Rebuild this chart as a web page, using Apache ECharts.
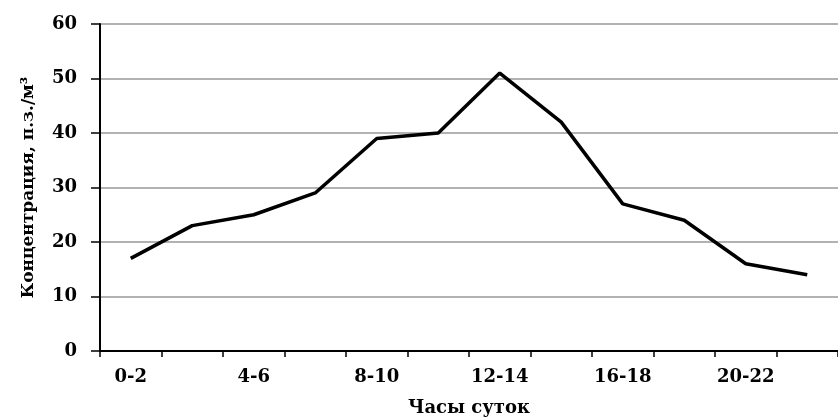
<!DOCTYPE html>
<html><head><meta charset="utf-8">
<script src="https://cdn.jsdelivr.net/npm/echarts@6/dist/echarts.min.js"></script>
<style>html,body{margin:0;padding:0;background:#fff}#c{width:838px;height:420px}</style>
</head><body><div id="c"></div>
<script>
const categories = ['0-2','2-4','4-6','6-8','8-10','10-12','12-14','14-16','16-18','18-20','20-22','22-24'];
const values = [17, 23, 25, 29, 39, 40, 51, 42, 27, 24, 16, 14];
const yTicks = [0, 10, 20, 30, 40, 50, 60];
const xTitle = 'Часы суток';
const yTitle = 'Концентрация, п.з./м³';

const font = '"DejaVu Serif", "Liberation Serif", serif';
const chart = echarts.init(document.getElementById('c'));
chart.setOption({
  animation: false,
  backgroundColor: '#fff',
  grid: {left: 100, right: 0, top: 24, bottom: 69, containLabel: false, outerBoundsMode: 'none'},
  xAxis: {
    type: 'category', data: categories, boundaryGap: true,
    name: xTitle, nameLocation: 'middle', nameGap: 48,
    nameTextStyle: {fontFamily: font, fontWeight: 'bold', fontSize: 18, color: '#000'},
    axisLine: {lineStyle: {color: '#000', width: 2}},
    axisTick: {show: true, interval: 0, length: 6, lineStyle: {color: '#000', width: 1.5}},
    axisLabel: {interval: 1, margin: 17, fontFamily: font, fontWeight: 'bold', fontSize: 18, color: '#000'},
    splitLine: {show: false}
  },
  yAxis: {
    type: 'value', min: yTicks[0], max: yTicks[yTicks.length-1], interval: 10,
    name: yTitle, nameLocation: 'middle', nameGap: 63, nameRotate: 90,
    nameTextStyle: {fontFamily: font, fontWeight: 'bold', fontSize: 17, color: '#000'},
    axisLine: {show: true, lineStyle: {color: '#000', width: 2}},
    axisTick: {show: true, inside: false, length: 9, lineStyle: {color: '#000', width: 1.5}},
    axisLabel: {margin: 23, fontFamily: font, fontWeight: 'bold', fontSize: 18, color: '#000'},
    splitLine: {show: true, lineStyle: {color: '#999', width: 1.5}}
  },
  series: [{
    type: 'line', data: values, symbol: 'none',
    lineStyle: {color: '#000', width: 3.5}
  }]
});
</script></body></html>
